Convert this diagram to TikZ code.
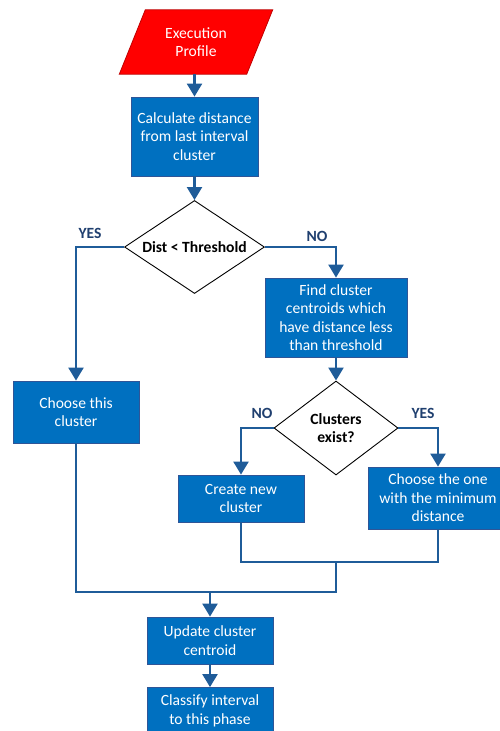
\documentclass[tikz,border=0pt]{standalone}
\usepackage{fontspec}
\setmainfont{Carlito}
\usepackage{tikz}
\usetikzlibrary{shapes.geometric,arrows.meta,backgrounds}
\definecolor{boxblue}{HTML}{0070C0}
\definecolor{boxedge}{HTML}{2F5597}
\definecolor{flowline}{HTML}{1F5C99}
\definecolor{answerblue}{HTML}{1F3F6F}
\definecolor{inred}{HTML}{FF0000}
\definecolor{inedge}{HTML}{C00000}

\begin{document}
\begin{tikzpicture}[x=1pt, y=1pt, node distance=100pt, font=\fontsize{15.6}{18.5}\selectfont]
        \tikzstyle{block} = [rectangle, draw=boxedge, line width=0.8pt, fill=boxblue, text=white, align=center, minimum width=126pt, minimum height=47pt, inner sep=2pt]
        \tikzstyle{decision} = [diamond, draw=black, line width=0.9pt, fill=white, align=center, font=\fontsize{15.6}{18.5}\selectfont\bfseries, inner sep=0pt]
        \tikzstyle{io} = [rectangle, text=white, align=center, minimum width=127pt, minimum height=64pt, inner sep=0pt]
        \tikzstyle{line} = [draw, line width=2.2pt, color=flowline, -{Triangle[width=15pt,length=13pt]}]
        \tikzstyle{merger} = [draw, line width=2.2pt, color=flowline]
        \tikzstyle{answer} = [font=\fontsize{15.6}{18.5}\selectfont\bfseries, text=answerblue]

        \useasboundingbox (0,0) rectangle (499,-731);

        \node [io] (profile) at (196,-42) {Execution\\Profile};
        \begin{scope}[on background layer]
            \filldraw [fill=inred, draw=inedge, line width=0.8pt] ([xshift=-13pt]profile.south west) -- ([xshift=13pt]profile.north west) -- ([xshift=13pt]profile.north east) -- ([xshift=-13pt]profile.south east) -- cycle;
        \end{scope}
        \node [block, below of=profile, node distance=94.5pt, xshift=-1.5pt, minimum width=127pt, minimum height=79pt] (calc) {Calculate distance\\from last interval\\cluster};
        \node [decision, below of=calc, node distance=110.5pt, aspect=1.5, minimum width=140pt, minimum height=93pt] (distcheck) {Dist < Threshold};
        \node [block, minimum height=62pt] (choose) at (76,-412) {Choose this\\cluster};
        \node [block, minimum width=142pt, minimum height=79pt] (find) at (336,-317.5) {Find cluster\\centroids which\\have distance less\\than threshold};
        \node [decision, below of=find, node distance=110.5pt, aspect=1.32, minimum width=124pt, minimum height=94pt] (exist) {Clusters\\exist?};
        \node [block] (create) at (241,-498.5) {Create new\\cluster};
        \node [block, minimum width=140pt, minimum height=62pt] (pick) at (438,-498) {Choose the one\\with the minimum\\distance};
        \node [block] (update) at (210,-640.5) {Update cluster\\centroid};
        \node [block, below of=update, node distance=70.5pt] (classify) {Classify interval\\to this phase};

        \node [answer] (yes1) at (90,-233) {YES};
        \node [answer] (no1) at (317,-236) {NO};
        \node [answer] (no2) at (262,-413) {NO};
        \node [answer] (yes2) at (423,-413) {YES};

        \coordinate (mergeR) at (336,-562);
        \coordinate (mergeL) at (336,-592);

        \path [line] (profile.south -| calc.north) -- (calc);
        \path [line] (calc) -- (distcheck);
        \path [line] (distcheck.west) -| (choose.north);
        \path [line] (distcheck.east) -| (find.north);
        \path [line] (find) -- (exist);
        \path [line] (exist.west) -| (create.north);
        \path [line] (exist.east) -| (pick.north);
        \path [merger] (create.south) |- (mergeR) -| (pick.south);
        \path [merger] (choose.south) |- (mergeL) -- (mergeR);
        \path [line] (update.north |- mergeL) -- (update);
        \path [line] (update) -- (classify);
    \end{tikzpicture}
\end{document}
